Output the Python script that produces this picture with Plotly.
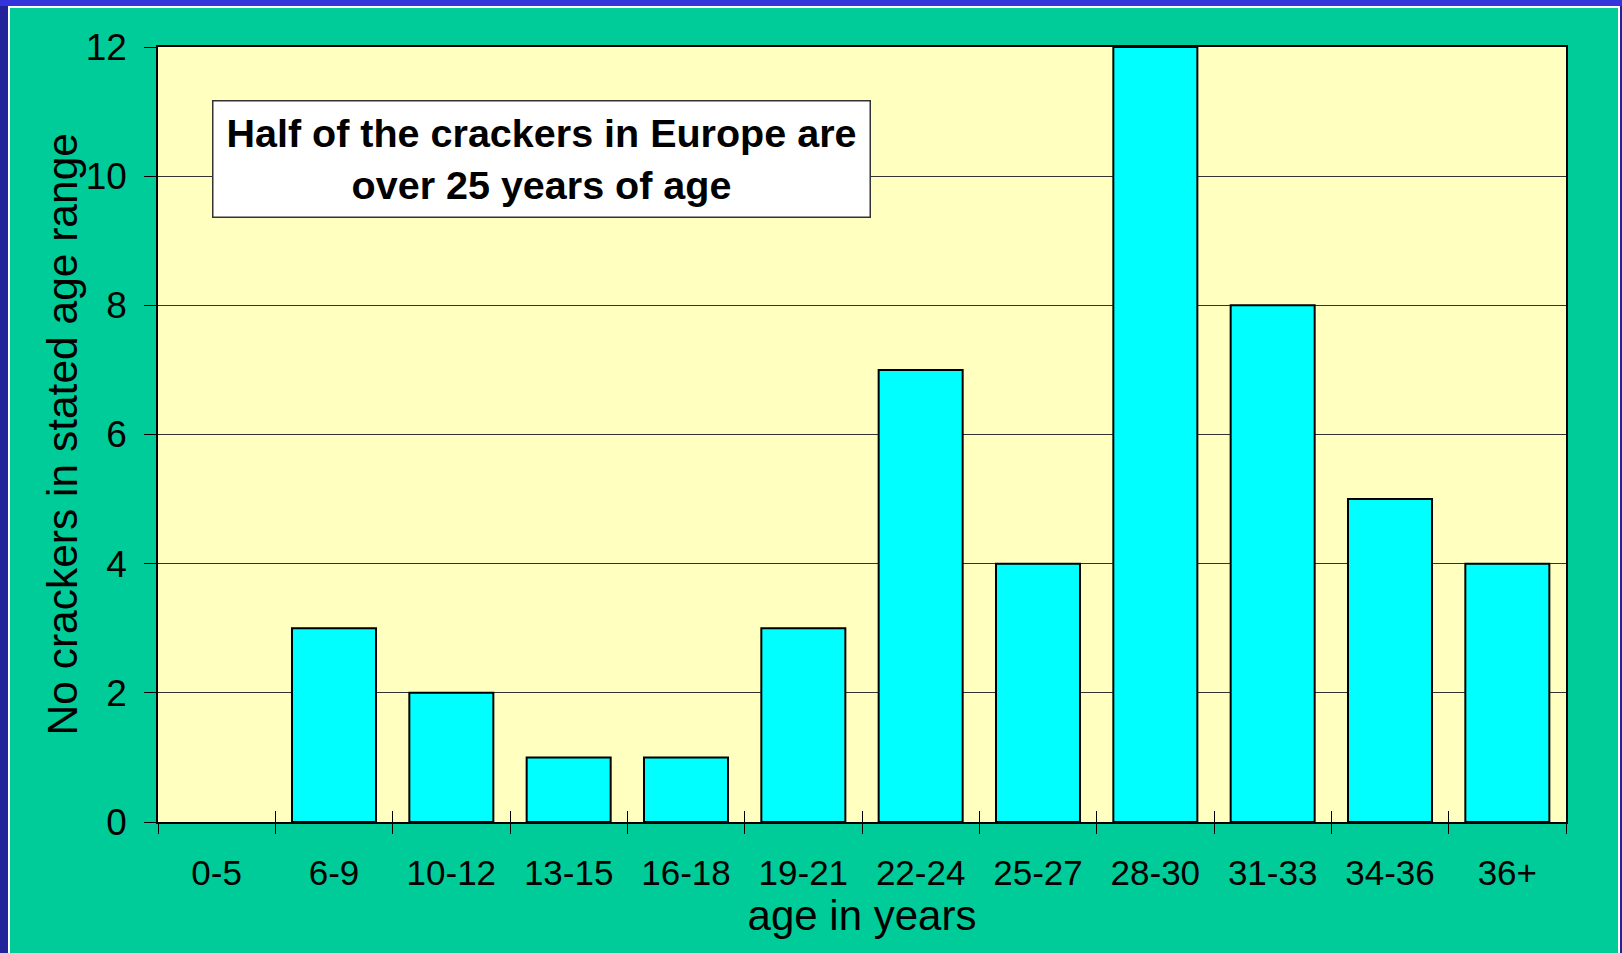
import plotly.graph_objects as go

categories = ["0-5", "6-9", "10-12", "13-15", "16-18", "19-21", "22-24",
              "25-27", "28-30", "31-33", "34-36", "36+"]
counts = [0, 3, 2, 1, 1, 3, 7, 4, 12, 8, 5, 4]
y_ticks = [0, 2, 4, 6, 8, 10, 12]

W, H = 1622, 953
L, R, T, B = 158, 1566, 47, 822
PW, PH = R - L, B - T


def px(x):
    return (x - L) / PW


def py(y):
    return (B - y) / PH


FONT = "Liberation Sans, Arial, sans-serif"
BLUE_TOP = "#3434dc"
BLUE_SIDE = "#22229a"

fig = go.Figure()
fig.add_trace(go.Bar(
    x=categories, y=counts,
    marker=dict(color="#00FFFF",
                line=dict(color="black", width=[2 if v > 0 else 0 for v in counts])),
    hoverinfo="x+y", showlegend=False,
))
fig.add_trace(go.Scatter(
    x=categories, y=counts, xaxis="x2", mode="markers",
    marker=dict(opacity=0), hoverinfo="skip", showlegend=False,
))


def strip(x0, x1, y0, y1, color):
    return dict(type="rect", xref="paper", yref="paper", layer="above",
                x0=px(x0), x1=px(x1), y0=py(y1), y1=py(y0),
                fillcolor=color, line=dict(width=0))


fig.update_layout(
    width=W, height=H,
    margin=dict(l=L, r=W - R, t=T, b=H - B, autoexpand=False),
    paper_bgcolor="#00CC99",
    plot_bgcolor="#FFFFC0",
    bargap=0.284,
    font=dict(family=FONT, color="black"),
    xaxis=dict(
        type="category", range=[-0.5, 11.5],
        ticks="outside", tickson="boundaries", ticklen=10, tickwidth=1,
        tickcolor="black",
        tickfont=dict(size=35, family=FONT),
        ticklabelstandoff=19,
        showline=True, linecolor="black", linewidth=2, mirror=True,
        showgrid=False, zeroline=False,
        title=dict(text="age in years", font=dict(size=42, family=FONT), standoff=7),
    ),
    xaxis2=dict(
        type="category", overlaying="x", matches="x", side="bottom",
        range=[-0.5, 11.5],
        ticks="inside", tickson="boundaries", ticklen=11, tickwidth=1,
        tickcolor="black", showticklabels=False, showgrid=False,
        showline=False, zeroline=False,
    ),
    yaxis=dict(
        range=[0, 12], tickvals=y_ticks,
        ticks="outside", ticklen=12, tickwidth=1, tickcolor="black",
        tickfont=dict(size=37, family=FONT),
        ticklabelstandoff=10,
        showline=True, linecolor="black", linewidth=1.5, mirror=True,
        showgrid=True, gridcolor="#333333", gridwidth=1,
        zeroline=False,
    ),
    shapes=[
        strip(-2, W + 2, -2, 6, BLUE_TOP),
        strip(-2, 8, 6, H + 2, BLUE_SIDE),
        strip(1620, W + 2, 6, H + 2, BLUE_SIDE),
        strip(8, 1620, 6, 8, "white"),
        strip(8, 10, 6, H + 2, "white"),
        strip(1618, 1620, 6, H + 2, "white"),
    ],
    annotations=[
        dict(xref="paper", yref="paper",
             x=px(62), y=0.5, xanchor="center", yanchor="middle",
             text="No crackers in stated age range", textangle=-90,
             showarrow=False, font=dict(size=42.5, family=FONT, color="black")),
        dict(xref="paper", yref="paper",
             x=px((212 + 870) / 2), y=py((100 + 217) / 2),
             xanchor="center", yanchor="middle",
             text="<b>Half of the crackers in Europe are<br>over 25 years of age</b>",
             showarrow=False, align="center",
             width=652, height=111, borderpad=2,
             bgcolor="white", bordercolor="#333333", borderwidth=1.5,
             font=dict(size=39.5, family=FONT, color="black")),
    ],
)

fig.write_html("out.html")
